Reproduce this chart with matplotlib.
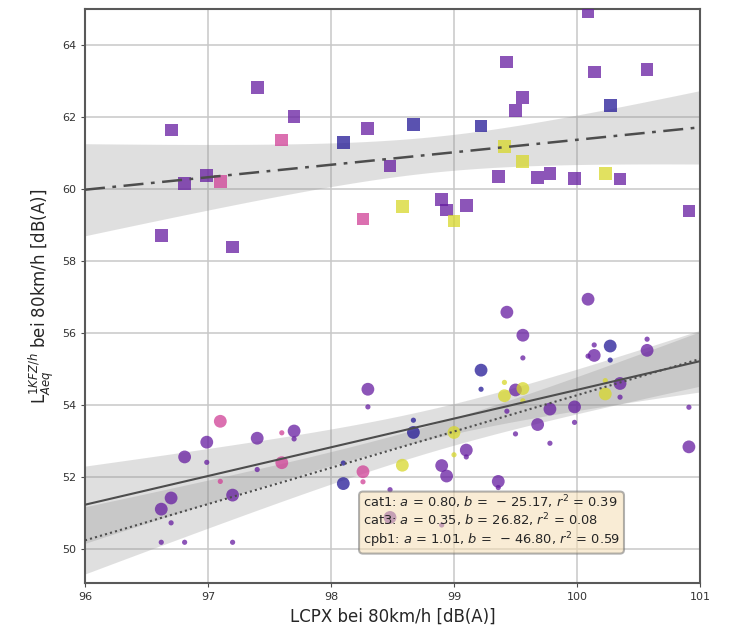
import numpy as np
import matplotlib
matplotlib.use('Agg')
import matplotlib.pyplot as plt

# LCPX je Fahrzeug (x-Achse)
lcpx = [96.62, 96.70, 96.81, 96.99, 97.10, 97.20, 97.40, 97.60, 97.70, 98.10,
        98.26, 98.30, 98.48, 98.58, 98.67, 98.90, 98.94, 99.00, 99.10, 99.22,
        99.36, 99.41, 99.43, 99.50, 99.56, 99.56, 99.68, 99.78, 99.98, 100.09,
        100.14, 100.23, 100.27, 100.35, 100.57, 100.91]

# Fahrzeugklasse -> Farbe (0 blau, 1 violett, 2 rosa, 3 gelb)
vehicle_class = [1, 1, 1, 1, 2, 1, 1, 2, 1, 0,
                 2, 1, 1, 3, 0, 1, 1, 3, 1, 0,
                 1, 3, 1, 1, 1, 3, 1, 1, 1, 1,
                 1, 3, 0, 1, 1, 1]

# L_Aeq fuer die drei Kategorien
cat3 = [58.71, 61.64, 60.16, 60.37, 60.20, 58.39, 62.83, 61.36, 62.01, 61.30,
        59.17, 61.69, 60.64, 59.51, 61.80, 59.71, 59.42, 59.11, 59.55, 61.75,
        60.35, 61.18, 63.53, 62.17, 62.55, 60.77, 60.31, 60.44, 60.29, 64.93,
        63.25, 60.44, 62.31, 60.28, 63.31, 59.39]
cat1 = [51.11, 51.42, 52.56, 52.97, 53.55, 51.50, 53.08, 52.40, 53.28, 51.82,
        52.15, 54.44, 50.88, 52.33, 53.24, 52.32, 52.03, 53.24, 52.75, 54.97,
        51.88, 54.26, 56.58, 54.42, 55.94, 54.46, 53.46, 53.89, 53.95, 56.94,
        55.38, 54.31, 55.64, 54.60, 55.52, 52.84]
cpb1 = [50.19, 50.73, 50.19, 52.41, 51.88, 50.19, 52.21, 53.23, 53.06, 52.39,
        51.87, 53.95, 51.65, np.nan, 53.58, 50.67, np.nan, 52.62, 52.56, 54.44,
        51.71, 54.63, 53.83, 53.20, 55.31, 54.12, np.nan, 52.94, 53.52, 55.36,
        55.67, 54.68, 55.25, 54.22, 55.83, 53.94]

fit_labels = [
    'cat1: $a$ = 0.80, $b$ =  $-$ 25.17, $r^2$ = 0.39',
    'cat3: $a$ = 0.35, $b$ = 26.82, $r^2$ = 0.08',
    'cpb1: $a$ = 1.01, $b$ =  $-$ 46.80, $r^2$ = 0.59',
]

class_colors = np.array(['#231896', '#661ca0', '#d04096', '#d7d72b'])


def fit_with_band(x, y, x_grid):
    """
    Lineare Regression mit 95%-Konfidenzband.
    """
    x = np.asarray(x, dtype=float)
    y = np.asarray(y, dtype=float)
    mask = ~np.isnan(y)
    x, y = x[mask], y[mask]
    n = len(x)
    a, b = np.polyfit(x, y, 1)
    resid = y - (a * x + b)
    s = np.sqrt(np.sum(resid ** 2) / (n - 2))
    sxx = np.sum((x - x.mean()) ** 2)
    y_fit = a * x_grid + b
    half = 2.03 * s * np.sqrt(1.0 / n + (x_grid - x.mean()) ** 2 / sxx)
    return y_fit, y_fit - half, y_fit + half


def plot_series(ax, y, marker, size, line_style, line_width, x_grid):
    """
    Streupunkte einer Kategorie plus Regressionsgerade.
    """
    colors = class_colors[vehicle_class]
    ax.scatter(lcpx, y, s=size, marker=marker, c=colors, alpha=0.75,
               linewidths=0, zorder=3)
    y_fit, lo, hi = fit_with_band(lcpx, y, x_grid)
    ax.fill_between(x_grid, lo, hi, color='0.55', alpha=0.27, linewidth=0, zorder=2)
    ax.plot(x_grid, y_fit, color='0.3', linestyle=line_style,
            linewidth=line_width, zorder=4)


def main():
    fig = plt.figure(figsize=(7.29, 6.28), dpi=100)
    ax = fig.add_axes([0.1166, 0.0717, 0.8436, 0.914])

    x_grid = np.linspace(96, 101, 200)
    plot_series(ax, cat3, 's', 85, (0, (8, 3, 1.5, 3)), 1.8, x_grid)
    plot_series(ax, cat1, 'o', 85, '-', 1.5, x_grid)
    plot_series(ax, cpb1, 'o', 14, (0, (1, 1.5)), 1.5, x_grid)

    ax.set_xlim(96, 101)
    ax.set_ylim(49.06, 65)
    ax.set_xticks(np.arange(96, 102, 1))
    ax.set_yticks(np.arange(50, 66, 2))
    ax.grid(True, color='0.78', linewidth=1.1, zorder=0)
    ax.set_axisbelow(True)
    ax.tick_params(labelsize=8, length=3, color='0.3', labelcolor='0.2')
    for spine in ax.spines.values():
        spine.set_color('0.35')
        spine.set_linewidth(1.5)

    ax.set_xlabel('LCPX bei 80km/h [dB(A)]', fontsize=12, color='0.15')
    ax.set_ylabel('$\\mathregular{L}_{Aeq}^{1KFZ/h}$ bei 80km/h [dB(A)]',
                  fontsize=12, color='0.15')

    ax.text(0.452, 0.058, '\n'.join(fit_labels), transform=ax.transAxes,
            fontsize=9.4, va='bottom', ha='left', color='0.15', zorder=6,
            linespacing=1.05,
            bbox=dict(boxstyle='round,pad=0.3', facecolor='wheat', alpha=0.55,
                      edgecolor='0.45', linewidth=1.5))

    fig.savefig('out.png', dpi=100)


if __name__ == "__main__":
    main()
